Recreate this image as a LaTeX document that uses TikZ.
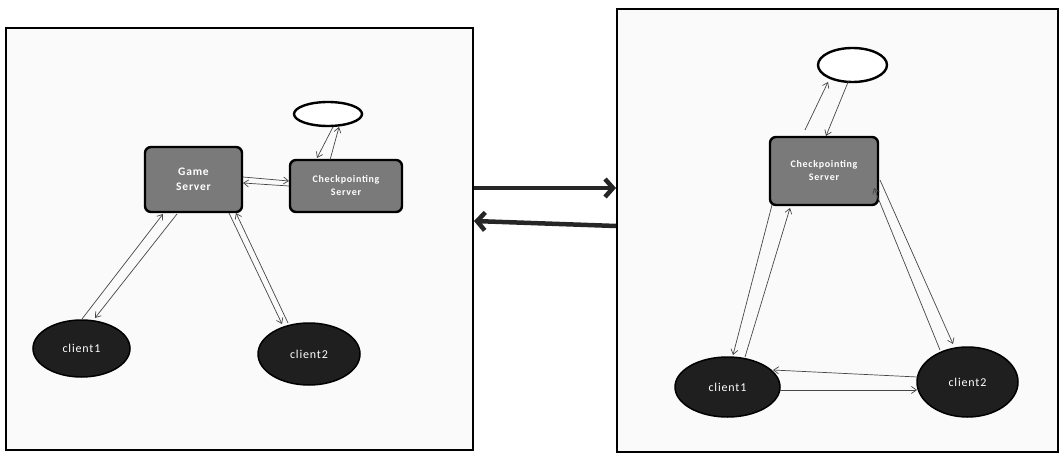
\documentclass[tikz,border=0pt]{standalone}
\usepackage{fontspec}
\newfontfamily\boxfont[LetterSpace=7]{Carlito}
\usetikzlibrary{arrows.meta,shapes.geometric}
\tikzset{
  panel/.style={draw=black, line width=2pt, fill=gray!4, rectangle, inner sep=0pt},
  srv/.style={draw=black, line width=2.4pt, fill=black!52, rounded corners=6pt, inner sep=0pt,
    text=white, align=center, font=\boxfont\bfseries\fontsize{11.5}{15}\selectfont},
  srvsmall/.style={srv, font=\boxfont\bfseries\fontsize{10}{13}\selectfont},
  cli/.style={ellipse, draw=black, line width=1.5pt, fill=black!88, inner sep=0pt,
    text=white, font=\boxfont\fontsize{12}{14}\selectfont},
  store/.style={ellipse, draw=black, line width=2.4pt, fill=white, inner sep=0pt},
  conn/.style={draw=gray!55!black, line width=0.7pt, -{Straight Barb[length=5pt,width=7pt]}},
  big/.style={draw=black!85, line width=4.5pt, -{Straight Barb[length=8pt,width=18pt]}},
}
\begin{document}
\begin{tikzpicture}[x=1pt,y=1pt]
\useasboundingbox (0,0) rectangle (1062,-454);
% panels
\node[panel, minimum width=467pt, minimum height=422pt] (lp) at (239.5,-239) {};
\node[panel, minimum width=441pt, minimum height=443pt] (rp) at (837.5,-230.5) {};
% left diagram
\node[srv, minimum width=97pt, minimum height=65pt] (gs) at (193.5,-179.5) {Game\\Server};
\node[srvsmall, minimum width=112pt, minimum height=52pt] (cs) at (346,-186) {Checkpointing\\Server};
\node[store, minimum width=68pt, minimum height=24pt] (e1) at (328,-114) {};
\node[cli, minimum width=97pt, minimum height=57pt] (c1) at (81.5,-348.5) {client1};
\node[cli, minimum width=102pt, minimum height=62pt] (c2) at (309,-354) {client2};
\draw[conn] ([shift={(49.5,2.5)}]gs.center) -- ([shift={(-57,5)}]cs.center);
\draw[conn] ([shift={(-57,0)}]cs.center) -- ([shift={(49.5,-3.5)}]gs.center);
\draw[conn] ([shift={(5,-13)}]e1.center) -- ([shift={(-29,28)}]cs.center);
\draw[conn] ([shift={(-16,26)}]cs.center) -- ([shift={(11,-13)}]e1.center);
\draw[conn] ([shift={(0.5,29.5)}]c1.center) -- ([shift={(-30.5,-34.5)}]gs.center);
\draw[conn] ([shift={(-16.5,-34.5)}]gs.center) -- ([shift={(13.5,30.5)}]c1.center);
\draw[conn] ([shift={(35.5,-33.5)}]gs.center) -- ([shift={(-27,30)}]c2.center);
\draw[conn] ([shift={(-21,31)}]c2.center) -- ([shift={(42.5,-33.5)}]gs.center);
% middle arrows
\draw[big] ([yshift=51pt]lp.east) -- ([yshift=42.5pt]rp.west);
\draw[big] ([yshift=4.5pt]rp.west) -- ([yshift=18pt]lp.east);
% right diagram
\node[srvsmall, minimum width=108pt, minimum height=68pt] (cs2) at (824,-171) {Checkpointing\\Server};
\node[store, minimum width=69pt, minimum height=34pt] (e2) at (852.5,-65) {};
\node[cli, minimum width=105pt, minimum height=60pt] (rc1) at (727.5,-387) {client1};
\node[cli, minimum width=101pt, minimum height=70pt] (rc2) at (967.5,-382) {client2};
\draw[conn] ([shift={(-19,41)}]cs2.center) -- ([shift={(-24.5,-17)}]e2.center);
\draw[conn] ([shift={(-4,-16)}]e2.center) -- ([shift={(2,35)}]cs2.center);
\draw[conn] ([shift={(-52,-34)}]cs2.center) -- ([shift={(5.5,32)}]rc1.center);
\draw[conn] ([shift={(17.5,30)}]rc1.center) -- ([shift={(-34,-37)}]cs2.center);
\draw[conn] ([shift={(56,-9)}]cs2.center) -- ([shift={(-14.5,38)}]rc2.center);
\draw[conn] ([shift={(-27.5,32)}]rc2.center) -- ([shift={(50,-17)}]cs2.center);
\draw[conn] ([shift={(-50,5)}]rc2.center) -- ([shift={(45.5,17)}]rc1.center);
\draw[conn] ([shift={(52.5,-3)}]rc1.center) -- ([shift={(-50.5,-8)}]rc2.center);
\end{tikzpicture}
\end{document}
